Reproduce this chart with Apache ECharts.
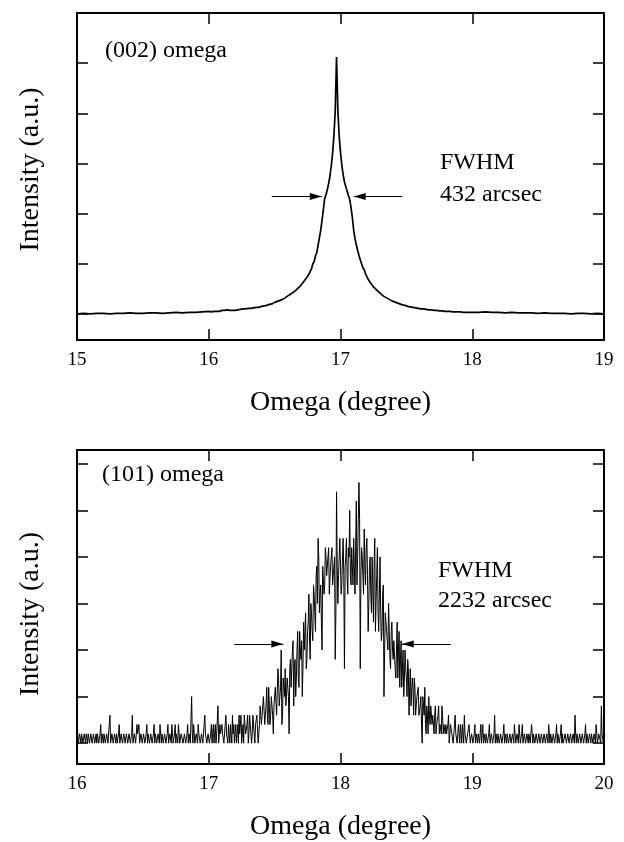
<!DOCTYPE html>
<html>
<head>
<meta charset="utf-8">
<script src="https://cdn.jsdelivr.net/npm/echarts@6/dist/echarts.min.js"></script>
<style>
html,body{margin:0;padding:0;background:#fff;}
#chart{width:624px;height:842px;}
</style>
</head>
<body>
<div id="chart"></div>
<script>
// ---------- (002) omega scan ----------
const xTicks002 = [15, 16, 17, 18, 19];
const yTicks002 = [0, 1, 2, 3, 4, 5];
// tails, 0.05 deg step
const tailLeft002Start = 15.00;
const tailLeft002 = [0.00,0.01,0.00,0.01,0.01,0.00,0.01,0.01,0.02,0.01,
                     0.01,0.02,0.02,0.01,0.02,0.03,0.02,0.03,0.03,0.04];
// core, 0.01 deg step, 16.00 .. 18.00
const core002Start = 16.00;
const core002 = [
  0.05,0.06,0.04,0.06,0.05,0.06,0.05,0.07,0.05,0.06, // 16.00
  0.07,0.06,0.07,0.06,0.08,0.06,0.07,0.08,0.07,0.08, // 16.10
  0.07,0.09,0.08,0.07,0.09,0.08,0.10,0.09,0.10,0.09, // 16.20
  0.11,0.10,0.11,0.10,0.12,0.11,0.13,0.12,0.13,0.12, // 16.30
  0.15,0.13,0.16,0.15,0.17,0.16,0.19,0.18,0.20,0.19, // 16.40
  0.23,0.21,0.25,0.24,0.27,0.26,0.29,0.29,0.32,0.31, // 16.50
  0.36,0.34,0.39,0.38,0.43,0.42,0.47,0.47,0.52,0.51, // 16.60
  0.57,0.57,0.64,0.65,0.71,0.74,0.79,0.85,0.90,1.00, // 16.70
  1.04,1.16,1.22,1.37,1.52,1.67,1.87,2.08,2.30,2.38, // 16.80
  2.48,2.60,2.75,2.95,3.20,3.55,4.05,5.12,4.05,3.55, // 16.90
  3.22,2.97,2.78,2.63,2.54,2.45,2.36,2.28,2.12,1.92, // 17.00
  1.67,1.50,1.38,1.27,1.17,1.08,1.00,0.92,0.88,0.80, // 17.10
  0.77,0.69,0.67,0.61,0.60,0.54,0.53,0.49,0.49,0.44, // 17.20
  0.44,0.39,0.40,0.35,0.36,0.32,0.33,0.29,0.30,0.26, // 17.30
  0.27,0.24,0.25,0.22,0.23,0.20,0.21,0.18,0.19,0.17, // 17.40
  0.17,0.15,0.16,0.14,0.15,0.13,0.14,0.12,0.13,0.11, // 17.50
  0.12,0.10,0.11,0.10,0.10,0.09,0.10,0.08,0.09,0.08, // 17.60
  0.09,0.07,0.08,0.07,0.08,0.06,0.07,0.06,0.07,0.05, // 17.70
  0.06,0.05,0.06,0.05,0.06,0.04,0.05,0.04,0.05,0.04, // 17.80
  0.05,0.04,0.04,0.03,0.04,0.03,0.04,0.03,0.04,0.03, // 17.90
  0.04                                                // 18.00
];
const tailRight002Start = 18.05;
const tailRight002 = [0.03,0.04,0.03,0.03,0.02,0.03,0.02,0.02,0.02,0.01,
                      0.02,0.01,0.01,0.01,0.00,0.01,0.01,0.00,0.01,0.00];
// FWHM arrows (tail x, tip x, level)
const arrows002 = [[16.478, 16.858, 2.34], [17.470, 17.100, 2.34]];

// ---------- (101) omega scan (counts), 0.005 deg step, 16.000 .. 20.000 ----------
const xTicks101 = [16, 17, 18, 19, 20];
const yTicks101 = [0, 5, 10, 15, 20, 25, 30];
const scan101Start = 16.00;
// counts at 16.00, 16.01, ... 20.00
const scan101 = [
  3,0,1,0,1,0,1,1,0,1,   // 16.00
  0,1,0,1,0,0,1,0,2,1,   // 16.10
  0,1,0,1,0,3,0,1,0,1,   // 16.20
  1,0,2,0,1,0,1,0,1,0,   // 16.30
  1,0,3,0,1,0,1,2,0,1,   // 16.40
  0,1,0,2,1,0,1,0,1,0,   // 16.50
  1,0,1,2,0,1,0,1,0,2,   // 16.60
  0,1,2,0,1,0,1,2,0,1,   // 16.70
  1,0,1,0,2,1,0,5,0,1,   // 16.80
  0,1,2,1,0,1,0,3,1,0,   // 16.90
  1,0,2,1,0,2,1,4,0,1,   // 17.00
  2,1,0,3,1,2,0,1,3,2,   // 17.10
  1,0,2,3,1,0,2,3,1,2,   // 17.20
  0,3,2,1,3,0,2,3,1,4,   // 17.30
  2,4,5,3,6,2,4,3,5,1,   // 17.40
  4,6,3,7,5,10,3,6,8,5,  // 17.50
  7,1,9,6,11,8,5,10,7,12,      // 17.60
  9,5,13,10,8,12,16,9,14,11,   // 17.70
  16,12,19,22,14,17,10,19,17,20, // 17.80
  18,21,16,20,17,19,9,27,15,20,  // 17.90
  19,17,22,8,20,18,21,25,17,19,  // 18.00
  22,16,26,20,28,8,21,18,23,17,  // 18.10
  22,12,19,16,20,13,22,15,21,12, // 18.20
  20,11,16,5,14,13,10,12,8,13,   // 18.30
  9,11,7,13,10,6,11,8,5,10,      // 18.40
  7,9,3,8,4,6,7,3,5,6,   // 18.50
  3,5,0,4,6,1,3,5,2,4,   // 18.60
  3,1,4,2,3,1,2,4,1,2,   // 18.70
  2,1,3,0,2,1,1,3,1,0,   // 18.80
  1,2,0,1,3,1,0,1,2,0,   // 18.90
  1,0,2,1,0,1,1,0,2,1,   // 19.00
  0,1,0,2,0,1,0,3,1,0,   // 19.10
  1,0,1,0,2,1,0,1,0,1,   // 19.20
  0,1,2,0,1,0,1,0,2,0,   // 19.30
  1,0,1,1,0,2,0,1,0,1,   // 19.40
  0,1,0,1,0,1,0,1,2,0,   // 19.50
  1,0,1,0,2,1,0,1,0,0,   // 19.60
  0,1,0,1,0,1,0,1,3,0,   // 19.70
  1,0,1,0,1,0,2,1,0,1,   // 19.80
  0,1,0,1,2,0,1,1,4,1,   // 19.90
  0                      // 20.00
];
// counts at 16.005, 16.015, ... 19.995
const scan101Mid = [
  1,0,1,1,0,1,0,1,1,0,   // 16.005
  1,0,1,0,1,1,0,1,0,1,   // 16.105
  1,0,1,0,2,0,1,0,1,0,   // 16.205
  0,1,0,1,0,1,0,1,0,1,   // 16.305
  0,1,0,1,0,2,1,0,1,0,   // 16.405
  1,0,1,0,1,0,1,0,2,1,   // 16.505
  0,1,0,1,1,0,1,0,1,0,   // 16.605
  1,0,1,0,2,1,0,1,0,1,   // 16.705
  0,1,0,1,0,1,0,1,2,0,   // 16.805
  1,0,1,0,1,0,2,1,0,1,   // 16.905
  0,1,0,2,1,0,1,0,2,1,   // 17.005
  1,0,2,1,0,1,2,0,1,0,   // 17.105
  2,1,0,1,3,1,0,2,1,3,   // 17.205
  1,2,0,3,1,2,3,0,2,3,   // 17.305
  3,5,2,4,3,6,2,5,3,4,   // 17.405
  6,3,8,4,6,2,7,5,4,7,   // 17.505
  5,8,6,10,4,9,7,12,6,10,        // 17.605
  11,8,10,14,9,13,11,15,12,17,   // 17.705
  14,18,15,20,16,13,19,16,21,18, // 17.805
  20,16,19,21,17,20,14,19,18,22, // 17.905
  16,20,18,19,22,16,20,18,21,17, // 18.005
  19,21,17,20,24,18,20,16,19,21, // 18.105
  18,15,20,14,17,19,12,18,14,16, // 18.205
  14,12,17,10,13,11,15,9,12,10,  // 18.305
  11,8,10,7,12,9,6,10,7,8,       // 18.405
  5,8,6,4,7,3,6,4,5,3,   // 18.505
  4,2,5,3,2,4,1,3,4,2,   // 18.605
  2,3,1,2,4,2,1,3,2,1,   // 18.705
  1,2,0,2,1,0,2,1,0,2,   // 18.805
  0,1,2,0,1,0,1,2,0,1,   // 18.905
  0,1,0,1,1,0,2,1,0,1,   // 19.005
  1,0,1,0,1,0,1,0,1,1,   // 19.105
  0,1,0,1,0,1,1,0,1,0,   // 19.205
  1,0,1,0,1,2,0,1,0,1,   // 19.305
  0,1,0,1,0,1,1,0,1,0,   // 19.405
  1,0,1,0,1,0,1,0,1,1,   // 19.505
  0,1,0,1,0,1,0,2,1,0,   // 19.605
  1,0,1,0,1,0,1,0,1,1,   // 19.705
  0,1,0,1,0,1,0,1,0,1,   // 19.805
  1,0,1,0,1,0,1,0,1,0    // 19.905
];
const arrows101 = [[17.194, 17.566, 10.64], [18.838, 18.465, 10.64]];

// ---------- helpers ----------
function scanPairs(start, step, vals) {
  return vals.map((v, i) => [Math.round((start + i * step) * 1000) / 1000, v]);
}
const data002 = scanPairs(tailLeft002Start, 0.05, tailLeft002)
  .concat(scanPairs(core002Start, 0.01, core002))
  .concat(scanPairs(tailRight002Start, 0.05, tailRight002));
const data101 = scanPairs(scan101Start, 0.01, scan101)
  .concat(scanPairs(scan101Start + 0.005, 0.01, scan101Mid))
  .sort((a, b) => a[0] - b[0]);

const FONT = '"Liberation Serif", "Times New Roman", serif';
const BLACK = '#000';

function arrowLines(arr) {
  return arr.map(a => [{ coord: [a[0], a[2]] }, { coord: [a[1], a[2]] }]);
}

function xAxes(gi, ticks) {
  const base = {
    gridIndex: gi, type: 'value', min: ticks[0], max: ticks[ticks.length - 1], interval: 1,
    splitLine: { show: false },
    axisLine: { show: true, onZero: false, lineStyle: { color: BLACK, width: 2 } },
    axisTick: { show: true, inside: true, length: 11, lineStyle: { color: BLACK, width: 1.5 } }
  };
  return [
    Object.assign({}, base, {
      position: 'bottom',
      axisLabel: { show: true, color: BLACK, fontFamily: FONT, fontSize: 19, margin: 11 },
      name: 'Omega (degree)', nameLocation: 'middle', nameGap: 49,
      nameTextStyle: { color: BLACK, fontFamily: FONT, fontSize: 28 }
    }),
    Object.assign({}, base, { position: 'top', axisLabel: { show: false } })
  ];
}
function yAxes(gi, min, max, ticks, namePad) {
  const base = {
    gridIndex: gi, type: 'value', min: min, max: max,
    splitLine: { show: false },
    axisLabel: { show: false },
    axisLine: { show: true, onZero: false, lineStyle: { color: BLACK, width: 2 } },
    axisTick: { show: true, inside: true, length: 11, customValues: ticks,
                lineStyle: { color: BLACK, width: 1.5 } }
  };
  return [
    Object.assign({}, base, {
      position: 'left',
      name: 'Intensity (a.u.)', nameLocation: 'middle', nameGap: 32,
      nameTextStyle: { color: BLACK, fontFamily: FONT, fontSize: 28, padding: namePad }
    }),
    Object.assign({}, base, { position: 'right' })
  ];
}

const chart = echarts.init(document.getElementById('chart'), null, { renderer: 'canvas' });

const markLineStyle = (arr) => ({
  silent: true,
  symbol: ['none', 'triangle'],
  symbolSize: [7, 12],
  symbolOffset: [0, [0, 6]],
  label: { show: false },
  emphasis: { disabled: true },
  lineStyle: { color: BLACK, width: 1, type: 'solid' },
  data: arrowLines(arr)
});

chart.setOption({
  animation: false,
  backgroundColor: '#fff',
  grid: [
    { left: 77, right: 20, top: 13, height: 327 },
    { left: 77, right: 20, top: 450, height: 316 }
  ],
  xAxis: xAxes(0, xTicks002).concat(xAxes(1, xTicks101)),
  yAxis: yAxes(0, -0.52, 6.0, yTicks002, [0, 0, 0, 14])
    .concat(yAxes(1, -2.24, 31.49, yTicks101, [0, 14, 0, 0])),
  series: [
    {
      name: '(002) omega', type: 'line', xAxisIndex: 0, yAxisIndex: 0,
      data: data002, showSymbol: false, symbol: 'none',
      lineStyle: { color: BLACK, width: 1.7 },
      markLine: markLineStyle(arrows002)
    },
    {
      name: '(101) omega', type: 'line', xAxisIndex: 2, yAxisIndex: 2,
      data: data101, showSymbol: false, symbol: 'none', sampling: null,
      lineStyle: { color: BLACK, width: 1 },
      markLine: markLineStyle(arrows101)
    }
  ],
  graphic: [
    { type: 'text', left: 105, top: 39, style: { text: '(002) omega', font: '24px ' + FONT, fill: BLACK } },
    { type: 'text', left: 440, top: 151, style: { text: 'FWHM', font: '24px ' + FONT, fill: BLACK } },
    { type: 'text', left: 440, top: 183, style: { text: '432 arcsec', font: '24px ' + FONT, fill: BLACK } },
    { type: 'text', left: 102, top: 463, style: { text: '(101) omega', font: '24px ' + FONT, fill: BLACK } },
    { type: 'text', left: 438, top: 559, style: { text: 'FWHM', font: '24px ' + FONT, fill: BLACK } },
    { type: 'text', left: 438, top: 589, style: { text: '2232 arcsec', font: '24px ' + FONT, fill: BLACK } }
  ]
});
</script>
</body>
</html>
